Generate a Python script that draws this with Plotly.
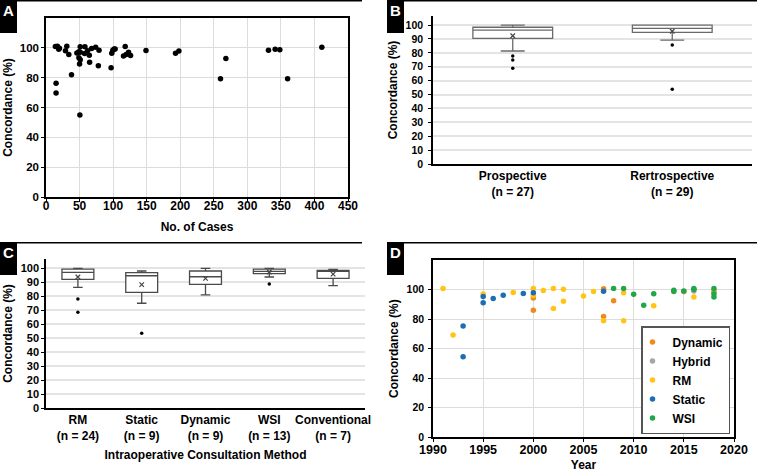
import plotly.graph_objects as go

W, H = 757, 472
FONT = "Liberation Sans, Arial, Helvetica, sans-serif"

# ---------------- Panel A data ----------------
cases_A = [14, 17, 20, 19, 15, 15, 29, 31, 34, 38, 46, 49, 49, 51, 51, 50, 51, 50.5,
           58, 57.5, 62, 64.5, 65, 68, 74, 79, 78, 97, 98, 99.6, 101.6, 103,
           115.5, 118, 119.5, 123, 126, 149, 193, 198, 260, 268, 331.5, 341.5, 348.4, 360, 411]
concord_A = [100.9, 101, 99.8, 99, 76.2, 69.7, 98, 101, 95.5, 82, 96.6, 97.3, 93.3, 97, 92, 89.2, 100.7, 55,
             100.7, 96.2, 98, 95, 90.3, 99.6, 100.4, 98.4, 88, 86.7, 96.4, 98.4, 99.3, 99.3,
             94.6, 100.9, 95.5, 97, 94.8, 98.2, 96.4, 97.8, 79.3, 92.8, 98.4, 99.1, 98.7, 79.3, 100.4]

# ---------------- Panel B data ----------------
design_cats = ["Prospective<br>(n = 27)", "Rertrospective<br>(n = 29)"]
design_low = [81.3, 89.2]
design_q1 = [90.4, 94.7]
design_med = [96.4, 97.6]
design_q3 = [98.4, 100.0]
design_high = [100.0, 100.0]
design_mean = [92.3, 95.5]
design_out_cat = ["Prospective<br>(n = 27)"] * 3 + ["Rertrospective<br>(n = 29)"] * 2
design_out_val = [77.7, 74.9, 68.9, 85.6, 53.7]

# ---------------- Panel C data ----------------
method_cats = ["RM<br>(n = 24)", "Static<br>(n = 9)", "Dynamic<br>(n = 9)", "WSI<br>(n = 13)", "Conventional<br>(n = 7)"]
method_low = [86.4, 75.0, 81.0, 93.8, 87.6]
method_q1 = [92.1, 82.8, 88.6, 96.2, 92.8]
method_med = [97.1, 94.7, 94.0, 97.8, 98.1]
method_q3 = [99.5, 96.9, 98.1, 99.5, 98.6]
method_high = [100.0, 98.1, 100.0, 100.0, 99.3]
method_mean = [93.8, 88.3, 92.8, 97.4, 95.9]
method_out_cat = ["RM<br>(n = 24)", "RM<br>(n = 24)", "Static<br>(n = 9)", "WSI<br>(n = 13)"]
method_out_val = [78.0, 68.6, 53.6, 88.8]

# ---------------- Panel D data ----------------
dyn_year = [2000, 2000, 2007, 2007, 2008, 2015, 2018]
dyn_val = [94.3, 86.0, 100.6, 81.7, 92.4, 98.6, 98.8]
hyb_year = [2016]
hyb_val = [99.0]
rm_year = [1991, 1992, 1995, 1998, 2000, 2000, 2001, 2002, 2002, 2003, 2003, 2005, 2006,
           2007, 2009, 2009, 2012, 2016, 2018]
rm_val = [100.7, 69.3, 97.0, 98.0, 100.7, 96.0, 99.4, 100.7, 87.2, 100.2, 92.0, 95.6, 98.7,
          78.9, 97.9, 78.8, 89.0, 95.0, 98.2]
static_year = [1993, 1993, 1995, 1995, 1996, 1997, 1999, 2000, 2007]
static_val = [75.4, 54.6, 95.3, 91.0, 94.0, 96.2, 97.3, 97.8, 98.8]
wsi_year = [2008, 2009, 2010, 2011, 2012, 2014, 2014, 2015, 2016, 2016, 2018, 2018, 2018]
wsi_val = [100.7, 100.7, 96.8, 89.3, 97.2, 99.5, 98.6, 99.0, 100.7, 100.1, 100.7, 97.2, 95.0]

series_D = [
    ("Dynamic", dyn_year, dyn_val, "#F08A1C"),
    ("Hybrid", hyb_year, hyb_val, "#A6A6A6"),
    ("RM", rm_year, rm_val, "#FFC414"),
    ("Static", static_year, static_val, "#1C6DB3"),
    ("WSI", wsi_year, wsi_val, "#21A64A"),
]


def fx(p):
    return p / W


def fy(p):
    return 1 - p / H


def tf(size):
    return dict(family=FONT, size=size, color="black", weight="bold")


titlefont = tf(12)

fig = go.Figure()

# Panel A
fig.add_trace(go.Scatter(x=cases_A, y=concord_A, mode="markers", xaxis="x", yaxis="y",
                         marker=dict(size=5.5, color="black"), showlegend=False))

# Panel B boxes
fig.add_trace(go.Box(x=design_cats, q1=design_q1, median=design_med, q3=design_q3,
                     lowerfence=design_low, upperfence=design_high, boxpoints=False,
                     fillcolor="white", line=dict(color="#6a6a6a", width=1.3),
                     whiskerwidth=0.3, width=0.5, xaxis="x2", yaxis="y2", showlegend=False))
fig.add_trace(go.Scatter(x=design_cats, y=design_mean, mode="markers", xaxis="x2", yaxis="y2",
                         marker=dict(symbol="x-thin", size=4.5, line=dict(width=1.2, color="#444")),
                         showlegend=False))
fig.add_trace(go.Scatter(x=design_out_cat, y=design_out_val, mode="markers", xaxis="x2", yaxis="y2",
                         marker=dict(size=3.5, color="black"), showlegend=False))

# Panel C boxes
fig.add_trace(go.Box(x=method_cats, q1=method_q1, median=method_med, q3=method_q3,
                     lowerfence=method_low, upperfence=method_high, boxpoints=False,
                     fillcolor="white", line=dict(color="#4a4a4a", width=1.3),
                     whiskerwidth=0.3, width=0.5, xaxis="x3", yaxis="y3", showlegend=False))
fig.add_trace(go.Scatter(x=method_cats, y=method_mean, mode="markers", xaxis="x3", yaxis="y3",
                         marker=dict(symbol="x-thin", size=4.5, line=dict(width=1.2, color="#444")),
                         showlegend=False))
fig.add_trace(go.Scatter(x=method_out_cat, y=method_out_val, mode="markers", xaxis="x3", yaxis="y3",
                         marker=dict(size=3.5, color="black"), showlegend=False))

# Panel D
for name, xs, ys, col in series_D:
    fig.add_trace(go.Scatter(x=xs, y=ys, mode="markers", name=name, xaxis="x4", yaxis="y4",
                             marker=dict(size=5.5, color=col)))

frame_axis = dict(showline=True, linecolor="black", linewidth=1.5, mirror=True,
                  showgrid=True, gridcolor="#dcdcdc", gridwidth=1, zeroline=False,
                  ticks="outside", ticklen=3, tickcolor="black", automargin=False)
box_y = dict(showline=True, linecolor="black", linewidth=1.5, showgrid=True,
             gridcolor="#e4e4e4", gridwidth=1.5, zeroline=False, ticks="outside",
             ticklen=3, tickcolor="black", dtick=10, tick0=0, automargin=False)
box_x = dict(type="category", showline=True, linecolor="black", linewidth=1.5,
             showgrid=False, zeroline=False, ticks="", tickfont=tf(12), automargin=False)

fig.update_layout(
    width=W, height=H,
    margin=dict(l=0, r=0, t=0, b=0),
    paper_bgcolor="white", plot_bgcolor="white",
    font=dict(family=FONT, color="black"),
    xaxis=dict(frame_axis, domain=[fx(46), fx(348)], range=[0, 450], dtick=50, tick0=0, anchor="y",
               tickfont=tf(12), ticklabelstandoff=-6,
               title=dict(text="No. of Cases", font=titlefont, standoff=10)),
    yaxis=dict(frame_axis, domain=[fy(197), fy(18)], range=[0, 120],
               tickvals=[0, 20, 40, 60, 80, 100], anchor="x", tickfont=tf(11.5),
               title=dict(text="Concordance (%)", font=titlefont, standoff=5)),
    xaxis2=dict(box_x, domain=[fx(433), fx(752)], range=[-0.5, 1.5], anchor="y2"),
    yaxis2=dict(box_y, domain=[fy(164), fy(16)], range=[0, 106.5], anchor="x2",
                tickfont=tf(10.5), ticklabelstandoff=3,
                title=dict(text="Concordance (%)", font=titlefont, standoff=5)),
    xaxis3=dict(box_x, domain=[fx(46), fx(365)], range=[-0.5, 4.5], anchor="y3",
                title=dict(text="Intraoperative Consultation Method", font=titlefont, standoff=9)),
    yaxis3=dict(box_y, domain=[fy(408), fy(259)], range=[0, 106.7], anchor="x3",
                tickfont=tf(11),
                title=dict(text="Concordance (%)", font=titlefont, standoff=5)),
    xaxis4=dict(frame_axis, domain=[fx(433), fx(734)], range=[1990, 2020], dtick=5, tick0=1990,
                anchor="y4", tickfont=tf(12.5), ticklabelstandoff=-3,
                title=dict(text="Year", font=titlefont, standoff=8)),
    yaxis4=dict(frame_axis, domain=[fy(437.3), fy(260)], range=[0, 120],
                tickvals=[0, 20, 40, 60, 80, 100], anchor="x4", tickfont=tf(10.5),
                ticklabelstandoff=2,
                title=dict(text="Concordance (%)", font=titlefont, standoff=5)),
    legend=dict(x=fx(730), y=fy(434), xanchor="right", yanchor="bottom",
                bgcolor="white", bordercolor="#555", borderwidth=1.5,
                font=tf(12), itemwidth=30, indentation=-10, tracegroupgap=0),
    showlegend=True,
)

# Panel header lines and letter boxes
shapes = []
annotations = []
for (x0, x1, ytop, letter) in [(0, 362, 0, "A"), (387, 757, 0, "B"), (0, 362, 242, "C"), (387, 757, 242, "D")]:
    shapes.append(dict(type="line", xref="paper", yref="paper", x0=fx(x0), x1=fx(x1),
                       y0=fy(ytop + 0.8), y1=fy(ytop + 0.8), line=dict(color="black", width=1.6)))
    shapes.append(dict(type="rect", xref="paper", yref="paper", x0=fx(x0), x1=fx(x0 + 17),
                       y0=fy(ytop + 33), y1=fy(ytop), fillcolor="black", line=dict(width=0)))
    annotations.append(dict(text=letter, xref="paper", yref="paper", x=fx(x0 + 8.5), y=fy(ytop + 10.5),
                            xanchor="center", yanchor="middle", showarrow=False,
                            font=dict(family=FONT, size=15, color="white", weight="bold")))
fig.update_layout(shapes=shapes, annotations=annotations)

fig.write_html("out.html", config={"displayModeBar": False},
               post_script="document.body.style.margin='0';document.body.style.overflow='hidden';")
